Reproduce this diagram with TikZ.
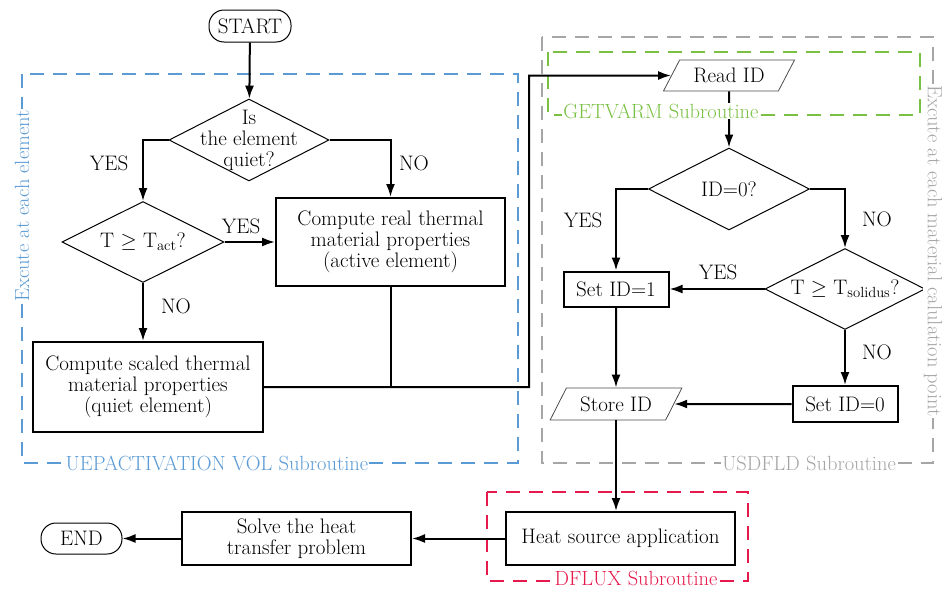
\documentclass[tikz,border=0pt]{standalone}
\usetikzlibrary{arrows.meta,shapes.geometric}
\definecolor{ublue}{HTML}{5B9BD5}
\definecolor{ugreen}{HTML}{7AC143}
\definecolor{ugray}{HTML}{A6A6A6}
\definecolor{ured}{HTML}{E5194B}
\newcommand{\flowfont}{\fontsize{21}{21}\selectfont}
\newcommand{\tagfont}{\fontsize{20.5}{21}\selectfont}
\tikzset{
 proc/.style={draw,line width=2pt,align=center,inner sep=0pt,font=\flowfont},
 term/.style={draw,line width=1pt,rounded corners=15pt,inner sep=0pt,font=\flowfont},
 decision/.style={diamond,draw,line width=1pt,inner sep=0pt},
 dtext/.style={align=center,inner sep=0pt,font=\flowfont},
 io/.style={trapezium,trapezium left angle=52,trapezium right angle=128,trapezium stretches=true,draw=black!70,line width=0.8pt,inner sep=0pt,font=\flowfont},
 arr/.style={-{Latex[length=13pt,width=9pt]},line width=2pt},
 link/.style={line width=2pt},
 ans/.style={font=\flowfont,inner sep=0pt},
 subframe/.style={dash pattern=on 14pt off 9pt,line width=2pt},
 tag/.style={fill=white,inner sep=1pt,font=\tagfont}}

\begin{document}
\begin{tikzpicture}[x=1pt,y=-1pt]
\useasboundingbox (0,0) rectangle (944,589);

\draw[subframe,ublue] (22,74) rectangle (518,463);
\draw[subframe,ugray] (542,37) rectangle (933,463);
\draw[subframe,ugreen] (548,52) rectangle (920,115);
\draw[subframe,ured] (487,492) rectangle (748,581);

\node[term,minimum width=82pt,minimum height=32pt] (start) at (250,26) {START};
\node[decision,minimum width=160pt,minimum height=82pt] (quiet) at (249,140) {};
\node[dtext] (quietlbl) at (quiet) {Is\\the element\\quiet?};
\node[decision,minimum width=162pt,minimum height=81pt] (tact) at (143,242) {};
\node[dtext] (tactlbl) at (tact) {T $\geq$ T\textsubscript{act}?};
\node[proc,minimum width=229pt,minimum height=88pt] (real) at (390.5,242) {Compute real thermal\\material properties\\(active element)};
\node[proc,minimum width=230pt,minimum height=90pt] (scaled) at (148,387) {Compute scaled thermal\\material properties\\(quiet element)};

\node[io,minimum width=132pt,minimum height=31pt] (readid) at (729,75.5) {Read ID};
\node[decision,minimum width=161pt,minimum height=82pt] (idzero) at (729,189) {};
\node[dtext] (idzerolbl) at (idzero) {ID=0?};
\node[decision,minimum width=160pt,minimum height=81pt] (solidus) at (845,289) {};
\node[dtext] (soliduslbl) at (solidus) {T $\geq$ T\textsubscript{solidus}?};
\node[proc,minimum width=105pt,minimum height=35pt] (setone) at (616,289) {Set ID=1};
\node[proc,minimum width=105pt,minimum height=36pt] (setzero) at (845,404) {Set ID=0};
\node[io,minimum width=133pt,minimum height=32pt] (storeid) at (616,404) {Store ID};

\node[proc,minimum width=229pt,minimum height=53pt] (heat) at (620.5,538.5) {Heat source application};
\node[proc,minimum width=229pt,minimum height=53pt] (solve) at (296.5,538.5) {Solve the heat\\transfer problem};
\node[term,minimum width=81pt,minimum height=31pt] (finish) at (81.5,538.5) {END};

\node[ans] (yesa) at (109,163) {YES};
\node[ans] (noa) at (414,163) {NO};
\node[ans] (yesb) at (241,226) {YES};
\node[ans] (nob) at (176,306) {NO};
\node[ans] (yesc) at (583,220) {YES};
\node[ans] (noc) at (877,219) {NO};
\node[ans] (yesd) at (718,272) {YES};
\node[ans] (nod) at (877,352) {NO};

\coordinate (bend) at (529,75.5);
\draw[arr] (start) -- (quiet);
\draw[arr] (quiet.west) -| (tact.north);
\draw[arr] (quiet.east) -| (real.north);
\draw[arr] (tact.east) -- (real.west);
\draw[arr] (tact.south) -- (tact.south |- scaled.north);
\draw[link] (real.south) -- (real.south |- scaled.east);
\draw[arr] (scaled.east) -| (bend) -- (readid.west);
\draw[arr] (readid.south) -- (idzero.north);
\draw[arr] (idzero.west) -| (setone.north);
\draw[arr] (idzero.east) -| (solidus.north);
\draw[arr] (solidus.west) -- (setone.east);
\draw[arr] (solidus.south) -- (setzero.north);
\draw[arr] (setone.south) -- (storeid.north);
\draw[arr] (setzero.west) -- (storeid.east);
\draw[arr] (storeid.south) -- (storeid.south |- heat.north);
\draw[arr] (heat.west) -- (solve.east);
\draw[arr] (solve.west) -- (finish.east);

\node[tag,text=ublue,rotate=90] (uepside) at (22,206) {Excute at each element};
\node[tag,text=ublue] (uepname) at (217,463) {UEPACTIVATION VOL Subroutine};
\node[tag,text=ugray,rotate=-90] (usdside) at (933,251) {Excute at each material calulation point};
\node[tag,text=ugray] (usdname) at (809,463) {USDFLD Subroutine};
\node[tag,text=ugreen] (getname) at (661,111) {GETVARM Subroutine};
\node[tag,text=ured] (dfxname) at (636,578) {DFLUX Subroutine};
\end{tikzpicture}
\end{document}
